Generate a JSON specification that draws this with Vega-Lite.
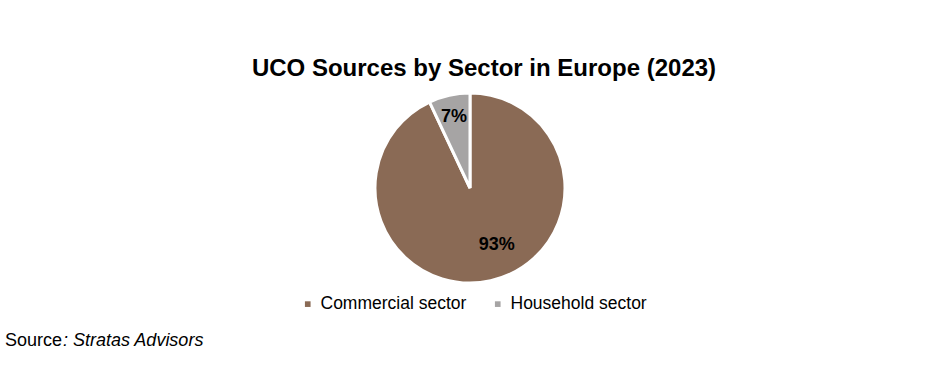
{
  "$schema": "https://vega.github.io/schema/vega-lite/v6.json",
  "padding": {"left": 5, "top": 57, "right": 0, "bottom": 0},
  "background": "white",
  "config": {"view": {"stroke": null}, "font": "Liberation Sans"},
  "spacing": 43,
  "vconcat": [
    {
      "width": 930,
      "height": 200,
      "title": {"text": "UCO Sources by Sector in Europe (2023)", "fontSize": 24, "fontWeight": "bold", "font": "Liberation Sans", "color": "black", "anchor": "middle", "frame": "group", "offset": 6, "dx": 14},
      "data": {"values": [
        {"sector": "Commercial sector", "share": 93, "label": "93%"},
        {"sector": "Household sector", "share": 7, "label": "7%"}
      ]},
      "encoding": {
        "theta": {"field": "share", "type": "quantitative", "stack": true},
        "order": {"field": "share", "type": "quantitative", "sort": "descending"}
      },
      "layer": [
        {
          "mark": {"type": "arc", "outerRadius": 95, "stroke": "white", "strokeWidth": 3},
          "encoding": {
            "color": {
              "field": "sector", "type": "nominal",
              "scale": {"domain": ["Commercial sector", "Household sector"], "range": ["#8A6A55", "#A6A4A4"]},
              "legend": {"orient": "none", "legendX": 294, "legendY": 207, "direction": "horizontal", "title": null, "padding": 0, "symbolType": "square", "symbolSize": 32, "symbolStrokeWidth": 0, "labelFontSize": 17.5, "labelFont": "Liberation Sans", "labelColor": "black", "labelOffset": 4, "columnPadding": 22}
            }
          }
        },
        {
          "mark": {"type": "text", "radius": 73, "fontSize": 18, "fontWeight": "bold", "font": "Liberation Sans", "color": "black"},
          "encoding": {
            "text": {"condition": {"test": "datum.sector === 'Household sector'", "field": "label"}, "value": ""}
          }
        },
        {
          "mark": {"type": "text", "radius": 63, "dx": 13, "dy": -4, "fontSize": 18, "fontWeight": "bold", "font": "Liberation Sans", "color": "black"},
          "encoding": {
            "text": {"condition": {"test": "datum.sector === 'Commercial sector'", "field": "label"}, "value": ""}
          }
        }
      ]
    },
    {
      "spacing": 0,
      "hconcat": [
        {
          "width": 1, "height": 1,
          "title": {"text": "Source", "fontSize": 18, "fontWeight": "normal", "font": "Liberation Sans", "color": "black", "anchor": "start", "frame": "group", "offset": 0},
          "data": {"values": []},
          "mark": "point"
        },
        {
          "width": 1, "height": 1,
          "title": {"text": ": Stratas Advisors", "fontSize": 18, "fontWeight": "normal", "fontStyle": "italic", "font": "Liberation Sans", "color": "black", "anchor": "start", "frame": "group", "offset": 0},
          "data": {"values": []},
          "mark": "point"
        }
      ]
    }
  ]
}
